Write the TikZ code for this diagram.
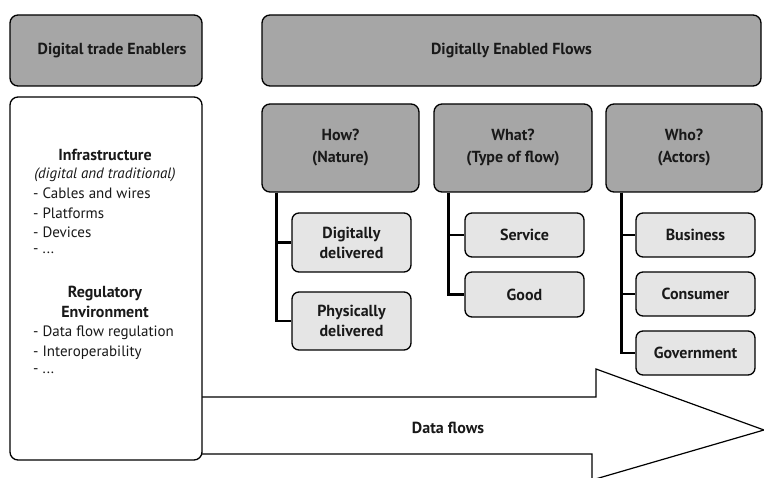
\documentclass[tikz,border=0pt]{standalone}
\usepackage{fontspec}
\setmainfont{PT Sans}
\begin{document}
\begin{tikzpicture}[x=1pt,y=-1pt,
  every node/.style={font=\fontsize{15}{19.5}\selectfont, text=black!90},
  hdr/.style={draw=black, line width=1.3pt, fill=gray!70!white, rounded corners=8pt,
              font=\fontsize{16}{22}\selectfont\bfseries, align=center, inner sep=0pt},
  sub/.style={draw=black, line width=1.3pt, fill=black!10, rounded corners=7pt,
              font=\fontsize{16}{20}\selectfont\bfseries, align=center, inner sep=0pt,
              minimum width=119pt},
  conn/.style={draw=black, line width=2.6pt, line join=miter},
  lst/.style={anchor=west, inner sep=0pt},
  ttl/.style={inner sep=0pt, font=\fontsize{16}{20}\selectfont\bfseries, align=center}]
\useasboundingbox (0,0) rectangle (764,478);

% data flow arrow (behind the enablers box)
\draw[line width=1.2pt, fill=white, line join=miter]
  (201,397) -- (596,397) -- (596,369) -- (764,430) -- (592,480) -- (592,454) -- (201,454);
\node[ttl] (df) at (448,428) {Data flows};

% column headers
\node[hdr, minimum width=192pt, minimum height=71pt] (dte) at (106,50.5) {\hspace*{12pt}Digital trade Enablers};
\node[hdr, minimum width=499pt, minimum height=71pt] (def) at (511.5,50.5) {Digitally Enabled Flows};

% enablers box
\node[draw=black, line width=1.3pt, fill=white, rounded corners=8pt, inner sep=0pt,
      minimum width=192pt, minimum height=363pt] (enb) at (106,278.5) {};
\node[ttl] (infra) at (105,155) {Infrastructure};
\node[inner sep=0pt, font=\fontsize{15}{19.5}\selectfont\itshape] (infra2) at (105,175) {(digital and traditional)};
\node[lst] (l1) at (33,193.5) {- Cables and wires};
\node[lst] (l2) at (33,213) {- Platforms};
\node[lst] (l3) at (33,232.5) {- Devices};
\node[lst] (l4) at (33,251) {- ...};
\node[ttl] (reg) at (105,302) {Regulatory\\Environment};
\node[lst] (r1) at (33,333) {- Data flow regulation};
\node[lst] (r2) at (33,352.5) {- Interoperability};
\node[lst] (r3) at (33,371) {- ...};

% flow dimensions
\node[hdr, minimum width=157pt, minimum height=88pt] (how) at (340.5,148) {How?\\(Nature)};
\node[hdr, minimum width=158pt, minimum height=88pt] (what) at (513,148) {What?\\(Type of flow)};
\node[hdr, minimum width=156pt, minimum height=88pt] (who) at (684,148) {Who?\\(Actors)};

\node[sub, minimum height=59pt] (dig) at (351.5,242.5) {Digitally\\delivered};
\node[sub, minimum height=58pt] (phy) at (351.5,321) {Physically\\delivered};

\node[sub, minimum height=44pt] (serv) at (524.5,235) {Service};
\node[sub, minimum height=45pt] (good) at (524.5,294.5) {Good};

\node[sub, minimum height=44pt] (bus) at (695.5,235) {Business};
\node[sub, minimum height=44pt] (cons) at (695.5,294) {Consumer};
\node[sub, minimum height=44pt] (gov) at (695.5,353) {Government};

% tree connectors
\coordinate (howroot) at ([xshift=15pt]how.south west);
\coordinate (whatroot) at ([xshift=15pt]what.south west);
\coordinate (whoroot) at ([xshift=16pt]who.south west);
\draw[conn] (howroot) |- (dig.west);
\draw[conn] (howroot) |- (phy.west);
\draw[conn] (whatroot) |- (serv.west);
\draw[conn] (whatroot) |- (good.west);
\draw[conn] (whoroot) |- (bus.west);
\draw[conn] (whoroot) |- (cons.west);
\draw[conn] (whoroot) |- (gov.west);
\end{tikzpicture}
\end{document}
